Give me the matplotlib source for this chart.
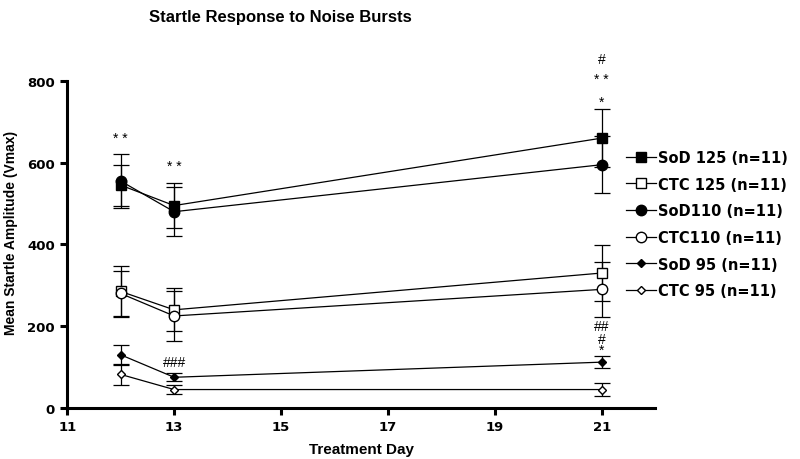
import matplotlib
matplotlib.use("Agg")
import matplotlib.pyplot as plt
from matplotlib.lines import Line2D

plt.rcParams["font.family"] = ["Liberation Sans", "DejaVu Sans"]

days = [12, 13, 21]

labels = ["SoD 125 (n=11)", "CTC 125 (n=11)", "SoD110 (n=11)",
          "CTC110 (n=11)", "SoD 95 (n=11)", "CTC 95 (n=11)"]
sod125 = [545, 495, 660]
sod125_err = [50, 55, 70]
ctc125 = [285, 240, 330]
ctc125_err = [63, 53, 68]
sod110 = [555, 480, 595]
sod110_err = [65, 60, 70]
ctc110 = [280, 225, 290]
ctc110_err = [55, 62, 68]
sod95 = [130, 75, 112]
sod95_err = [25, 10, 15]
ctc95 = [82, 45, 45]
ctc95_err = [25, 10, 15]

# significance marks: (day, y, text)
marks = [(12, 660, "* *"), (13, 592, "* *"), (13, 112, "###"),
         (21, 750, "*"), (21, 804, "* *"), (21, 853, "#"),
         (21, 142, "*"), (21, 168, "#"), (21, 200, "##")]

series = [
    (sod125, sod125_err, "s", "black", 7),
    (ctc125, ctc125_err, "s", "white", 7),
    (sod110, sod110_err, "o", "black", 7.5),
    (ctc110, ctc110_err, "o", "white", 7.5),
    (sod95, sod95_err, "D", "black", 4.5),
    (ctc95, ctc95_err, "D", "white", 4.5),
]

fig = plt.figure(figsize=(8, 4.6), dpi=100)
ax = fig.add_axes([0.084, 0.111, 0.735, 0.711])

handles = []
for (vals, err, mk, fc, ms), lab in zip(series, labels):
    ax.errorbar(days, vals, yerr=err, marker=mk, markersize=ms,
                markerfacecolor=fc, markeredgecolor="black", color="black",
                linewidth=0.9, elinewidth=0.9, capsize=5.5, capthick=0.9,
                clip_on=False)
    handles.append(Line2D([], [], marker=mk, markersize=ms, markerfacecolor=fc,
                          markeredgecolor="black", color="black",
                          linewidth=0.9, label=lab))

for d, y, t in marks:
    ax.text(d, y, t, ha="center", va="center", fontsize=10, clip_on=False)

ax.set_xlim(11, 22)
ax.set_ylim(0, 800)
ax.set_xticks([11, 13, 15, 17, 19, 21])
ax.set_yticks([0, 200, 400, 600, 800])
for s in ["top", "right"]:
    ax.spines[s].set_visible(False)
for s in ["left", "bottom"]:
    ax.spines[s].set_linewidth(2.2)
ax.tick_params(width=2.2, length=5, pad=4)
for lbl in ax.get_xticklabels() + ax.get_yticklabels():
    lbl.set_fontweight("bold")
    lbl.set_fontfamily("DejaVu Sans")
    lbl.set_fontsize(9.5)

ax.set_xlabel("Treatment Day", fontsize=11, fontweight="bold", labelpad=6)
ax.set_ylabel("Mean Startle Amplitude (Vmax)", fontsize=10, fontweight="bold")
ax.yaxis.set_label_coords(-0.083, 0.538)
fig.text(0.35, 0.962, "Startle Response to Noise Bursts", ha="center",
         va="center", fontsize=12, fontweight="bold")

fig.legend(handles=handles, loc="upper left",
           bbox_to_anchor=(0.783, 0.672), frameon=False, borderpad=0,
           borderaxespad=0,
           prop={"weight": "bold", "size": 10.5, "family": "DejaVu Sans"},
           handlelength=2.0, labelspacing=0.8, handletextpad=0.2)

fig.savefig("out.png", dpi=100)
